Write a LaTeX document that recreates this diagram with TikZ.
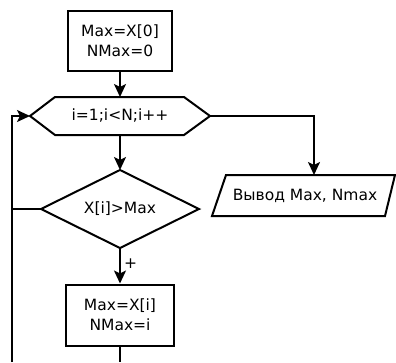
\documentclass[tikz,border=0pt]{standalone}
\usepackage{fontspec}
\setmainfont{DejaVu Sans}
\usetikzlibrary{arrows.meta}
\tikzset{
  shp/.style={draw=black, line width=2pt, line join=miter, fill=white},
  conn/.style={draw=black, line width=2pt},
  arr/.style={conn, -{Stealth[length=13pt,width=12pt,inset=3pt]}},
  txt/.style={align=center, inner sep=0pt, font=\fontsize{15.5}{20}\selectfont},
  box/.style={shp, rectangle, minimum width=#1, minimum height=60pt, inner sep=0pt, align=center, font=\fontsize{15.5}{20}\selectfont}
}
\begin{document}
\begin{tikzpicture}[x=1pt,y=-1pt]
\useasboundingbox (0,0) rectangle (396,362);
% start box
\node[box=104pt] (b1) at (120,41) {Max=X[0]\\NMax=0};
% loop hexagon
\draw[shp] (30,116) coordinate (hL) -- (55,97) -- (120,97) coordinate (hT) -- (184,97) -- (210,116) coordinate (hR) -- (184,135) -- (120,135) coordinate (hB) -- (55,135) -- cycle;
\node[txt] (h) at (120,116) {i=1;i<N;i++};
% decision diamond
\draw[shp] (120,170) coordinate (dT) -- (199,209) coordinate (dR) -- (120,248) coordinate (dB) -- (41,209) coordinate (dL) -- cycle;
\node[txt] (d) at (120,209) {X[i]>Max};
% assignment box
\node[box=108pt, minimum height=61pt] (b2) at (120,315) {Max=X[i]\\NMax=i};
% output parallelogram
\draw[shp] (226,175) -- (314,175) coordinate (pT) -- (395,175) -- (385,216) -- (212,216) -- cycle;
\node[txt] (p) at (305,196) {Вывод Max, Nmax};
% loop-back coordinates
\coordinate (bot) at (120,362);
\coordinate (lb) at (12,362);
\coordinate (lt) at (12,116);
\coordinate (lm) at (12,209);
% connectors
\draw[arr] (b1.south) -- (hT);
\draw[arr] (hB) -- (dT);
\draw[arr] (dB) -- node[txt, right, pos=0.45, xshift=3pt] (plus) {+} (b2.north);
\draw[arr] (hR) -| (pT);
\draw[conn] (b2.south) -- (bot);
\draw[arr] (lb) -- (lt) -- (hL);
\draw[conn] (dL) -- (lm);
\end{tikzpicture}
\end{document}
